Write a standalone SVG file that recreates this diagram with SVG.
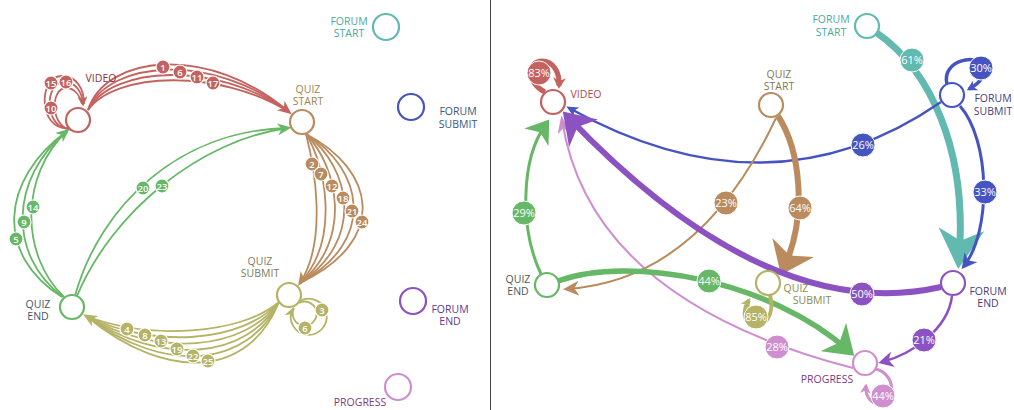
<svg xmlns="http://www.w3.org/2000/svg" width="1014" height="410" viewBox="0 0 1014 410">
<style>
  text{font-family:"Open Sans","Noto Sans","DejaVu Sans",sans-serif}
  .lbl{font-size:10.5px;text-anchor:middle}
  .nd{fill:#fff;stroke-width:2.2}
  .e{fill:none}
  .thin{stroke-width:1.8}
  .lb circle{stroke:#fff;stroke-width:1.2}
  .lb text{font-size:9.5px;fill:#fff;text-anchor:middle;font-weight:600}
  .rb circle{stroke:#fff;stroke-width:1}
  .rb text{font-size:11px;fill:#fff;text-anchor:middle}
  .red{stroke:#c4625f}.brown{stroke:#b98b5e}.olive{stroke:#b5b366}.green{stroke:#66b866}
  .teal{stroke:#62b9b0}.blue{stroke:#4654c2}.purple{stroke:#8d52c2}.pink{stroke:#cf8fcf}
  .fred{fill:#c4625f}.fbrown{fill:#b98b5e}.folive{fill:#b5b366}.fgreen{fill:#66b866}
  .fteal{fill:#62b9b0}.fblue{fill:#4654c2}.fpurple{fill:#8d52c2}.fpink{fill:#cf8fcf}
</style>
<defs>
  <path id="head" d="M0,0 L12,5 L0,10 L3.5,5 Z"/>
  <!-- small heads for the bundled arcs -->
  <marker id="hL-red" viewBox="0 0 12 10" refX="9" refY="5" markerWidth="14" markerHeight="12" markerUnits="userSpaceOnUse" orient="auto" preserveAspectRatio="none"><use href="#head" class="fred"/></marker>
  <marker id="hL-brown" viewBox="0 0 12 10" refX="9" refY="5" markerWidth="14" markerHeight="12" markerUnits="userSpaceOnUse" orient="auto" preserveAspectRatio="none"><use href="#head" class="fbrown"/></marker>
  <marker id="hL-olive" viewBox="0 0 12 10" refX="9" refY="5" markerWidth="14" markerHeight="12" markerUnits="userSpaceOnUse" orient="auto" preserveAspectRatio="none"><use href="#head" class="folive"/></marker>
  <marker id="hL-green" viewBox="0 0 12 10" refX="9" refY="5" markerWidth="14" markerHeight="12" markerUnits="userSpaceOnUse" orient="auto" preserveAspectRatio="none"><use href="#head" class="fgreen"/></marker>
  <marker id="hS-red" viewBox="0 0 12 10" refX="9" refY="5" markerWidth="10" markerHeight="10" markerUnits="userSpaceOnUse" orient="auto" preserveAspectRatio="none"><use href="#head" class="fred"/></marker>
  <marker id="hS-olive" viewBox="0 0 12 10" refX="9" refY="5" markerWidth="10" markerHeight="10" markerUnits="userSpaceOnUse" orient="auto" preserveAspectRatio="none"><use href="#head" class="folive"/></marker>
  <marker id="hS-blue" viewBox="0 0 12 10" refX="9" refY="5" markerWidth="10" markerHeight="11" markerUnits="userSpaceOnUse" orient="auto" preserveAspectRatio="none"><use href="#head" class="fblue"/></marker>
  <marker id="hS-pink" viewBox="0 0 12 10" refX="9" refY="5" markerWidth="10" markerHeight="11" markerUnits="userSpaceOnUse" orient="auto" preserveAspectRatio="none"><use href="#head" class="fpink"/></marker>
  <!-- weighted heads, sized by transition share -->
  <marker id="h-teal" viewBox="0 0 12 10" refX="9" refY="5" markerWidth="40" markerHeight="46" markerUnits="userSpaceOnUse" orient="auto" preserveAspectRatio="none"><use href="#head" class="fteal"/></marker>
  <marker id="h-purple" viewBox="0 0 12 10" refX="9" refY="5" markerWidth="30" markerHeight="40" markerUnits="userSpaceOnUse" orient="auto" preserveAspectRatio="none"><use href="#head" class="fpurple"/></marker>
  <marker id="h-brown" viewBox="0 0 12 10" refX="9" refY="5" markerWidth="30" markerHeight="46" markerUnits="userSpaceOnUse" orient="auto" preserveAspectRatio="none"><use href="#head" class="fbrown"/></marker>
  <marker id="h-green" viewBox="0 0 12 10" refX="9" refY="5" markerWidth="28" markerHeight="38" markerUnits="userSpaceOnUse" orient="auto" preserveAspectRatio="none"><use href="#head" class="fgreen"/></marker>
  <marker id="h-green2" viewBox="0 0 12 10" refX="9" refY="5" markerWidth="22" markerHeight="30" markerUnits="userSpaceOnUse" orient="auto" preserveAspectRatio="none"><use href="#head" class="fgreen"/></marker>
  <marker id="h-blue1" viewBox="0 0 12 10" refX="9" refY="5" markerWidth="12" markerHeight="11" markerUnits="userSpaceOnUse" orient="auto" preserveAspectRatio="none"><use href="#head" class="fblue"/></marker>
  <marker id="h-blue2" viewBox="0 0 12 10" refX="9" refY="5" markerWidth="15" markerHeight="16" markerUnits="userSpaceOnUse" orient="auto" preserveAspectRatio="none"><use href="#head" class="fblue"/></marker>
  <marker id="h-pink" viewBox="0 0 12 10" refX="9" refY="5" markerWidth="18" markerHeight="13" markerUnits="userSpaceOnUse" orient="auto" preserveAspectRatio="none"><use href="#head" class="fpink"/></marker>
  <marker id="h-brown2" viewBox="0 0 12 10" refX="9" refY="5" markerWidth="16" markerHeight="15" markerUnits="userSpaceOnUse" orient="auto" preserveAspectRatio="none"><use href="#head" class="fbrown"/></marker>
  <marker id="h-purple2" viewBox="0 0 12 10" refX="9" refY="5" markerWidth="15" markerHeight="16" markerUnits="userSpaceOnUse" orient="auto" preserveAspectRatio="none"><use href="#head" class="fpurple"/></marker>
  <marker id="h-red-loop" viewBox="0 0 12 10" refX="9" refY="5" markerWidth="11" markerHeight="13" markerUnits="userSpaceOnUse" orient="auto" preserveAspectRatio="none"><use href="#head" class="fred"/></marker>
</defs>

<rect width="1014" height="410" fill="#fff"/>
<line x1="490.5" y1="0" x2="490.5" y2="410" stroke="#444" stroke-width="1"/>

<!-- ===== left panel: numbered step sequence ===== -->
<g id="connectors-left">
  <!-- video -> quiz start -->
  <g class="e red thin">
    <path d="M88,110 C106,54 210,44 289,112"/>
    <path d="M88,110 C109,60 213,52 289,112" marker-end="url(#hL-red)"/>
    <path d="M88,110 C112,66 216,60 289,112"/>
    <path d="M88,110 C115,72 219,68 289,112"/>
  </g>
  <!-- video self loops -->
  <g class="e red thin">
    <path d="M68,128 C38,130 38,76 62,76 C76,76 84,88 84,104"/>
    <path d="M70,129 C44,129 44,82 64,82 C76,82 82,92 83,104" marker-end="url(#hS-red)"/>
    <path d="M72,130 C50,128 50,88 66,88 C75,88 80,96 82,104"/>
  </g>
  <!-- quiz start -> quiz submit -->
  <g class="e brown thin">
    <path d="M306,134 C314,165 328,240 300,283" marker-end="url(#hL-brown)"/>
    <path d="M306,134 C326,166 340,240 300,283"/>
    <path d="M306,134 C338,167 353,240 300,283"/>
    <path d="M306,134 C351,168 365,240 300,283"/>
    <path d="M306,134 C363,169 378,240 300,283"/>
    <path d="M306,134 C375,170 390,240 300,283"/>
  </g>
  <!-- quiz submit self loops -->
  <g class="e olive thin">
    <path d="M300,301 A18,18 0 1 1 292,310" marker-end="url(#hS-olive)"/>
    <path d="M299,303 A12,12 0 1 1 294,308"/>
  </g>
  <!-- quiz submit -> quiz end -->
  <g class="e olive thin">
    <path d="M279,302 C240,335 150,340 86,316"/>
    <path d="M279,302 C242,343 154,349 86,316"/>
    <path d="M279,302 C244,351 158,358 86,316" marker-end="url(#hL-olive)"/>
    <path d="M279,302 C246,359 162,367 86,316"/>
    <path d="M279,302 C248,367 166,376 86,316"/>
    <path d="M279,302 C250,375 170,385 86,316"/>
  </g>
  <!-- quiz end -> video -->
  <g class="e green thin">
    <path d="M62,297 C-5,255 0,180 67,131"/>
    <path d="M63,297 C7,255 10,178 67,131" marker-end="url(#hL-green)"/>
    <path d="M64,297 C20,255 20,175 67,131"/>
  </g>
  <!-- quiz end -> quiz start -->
  <g class="e green thin">
    <path d="M75,296 C100,205 180,130 288,128"/>
    <path d="M77,296 C112,212 200,140 288,128" marker-end="url(#hL-green)"/>
  </g>
  <!-- step numbers -->
  <g class="lb">
    <g><circle cx="163" cy="67" r="7" class="fred"/><text x="163" y="70.5">1</text></g>
    <g><circle cx="180" cy="72" r="7" class="fred"/><text x="180" y="75.5">6</text></g>
    <g><circle cx="197" cy="77" r="7" class="fred"/><text x="197" y="80.5">11</text></g>
    <g><circle cx="213" cy="83" r="7" class="fred"/><text x="213" y="86.5">17</text></g>
    <g><circle cx="51" cy="83" r="7" class="fred"/><text x="51" y="86.5">15</text></g>
    <g><circle cx="66" cy="82" r="7" class="fred"/><text x="66" y="85.5">16</text></g>
    <g><circle cx="51" cy="108" r="7" class="fred"/><text x="51" y="111.5">10</text></g>
    <g><circle cx="312" cy="164" r="7" class="fbrown"/><text x="312" y="167.5">2</text></g>
    <g><circle cx="321" cy="174" r="7" class="fbrown"/><text x="321" y="177.5">7</text></g>
    <g><circle cx="332" cy="186" r="7" class="fbrown"/><text x="332" y="189.5">12</text></g>
    <g><circle cx="343" cy="198" r="7" class="fbrown"/><text x="343" y="201.5">18</text></g>
    <g><circle cx="352" cy="211" r="7" class="fbrown"/><text x="352" y="214.5">21</text></g>
    <g><circle cx="362" cy="222" r="7" class="fbrown"/><text x="362" y="225.5">24</text></g>
    <g><circle cx="322" cy="310" r="7" class="folive"/><text x="322" y="313.5">3</text></g>
    <g><circle cx="305" cy="328" r="7" class="folive"/><text x="305" y="331.5">6</text></g>
    <g><circle cx="127" cy="329" r="7" class="folive"/><text x="127" y="332.5">4</text></g>
    <g><circle cx="145" cy="335" r="7" class="folive"/><text x="145" y="338.5">8</text></g>
    <g><circle cx="161" cy="341" r="7" class="folive"/><text x="161" y="344.5">13</text></g>
    <g><circle cx="177" cy="349" r="7" class="folive"/><text x="177" y="352.5">19</text></g>
    <g><circle cx="193" cy="356" r="7" class="folive"/><text x="193" y="359.5">22</text></g>
    <g><circle cx="208" cy="361" r="7" class="folive"/><text x="208" y="364.5">25</text></g>
    <g><circle cx="16" cy="239" r="7" class="fgreen"/><text x="16" y="242.5">5</text></g>
    <g><circle cx="24" cy="222" r="7" class="fgreen"/><text x="24" y="225.5">9</text></g>
    <g><circle cx="33" cy="207" r="7" class="fgreen"/><text x="33" y="210.5">14</text></g>
    <g><circle cx="143" cy="188" r="7" class="fgreen"/><text x="143" y="191.5">20</text></g>
    <g><circle cx="162" cy="186" r="7" class="fgreen"/><text x="162" y="189.5">23</text></g>
  </g>
</g>

<g id="L-video"><circle cx="78" cy="120" r="12" class="nd red"/><text class="lbl" x="101" y="82" fill="#8a2e3e">VIDEO</text></g>
<g id="L-quiz-start"><circle cx="302" cy="122" r="12" class="nd brown"/><text class="lbl" fill="#9c8650"><tspan x="308" y="93">QUIZ</tspan><tspan x="308" y="105">START</tspan></text></g>
<g id="L-quiz-end"><circle cx="72" cy="307" r="12" class="nd green"/><text class="lbl" fill="#3e5566"><tspan x="38" y="308">QUIZ</tspan><tspan x="38" y="320">END</tspan></text></g>
<g id="L-quiz-submit"><circle cx="289" cy="295" r="12" class="nd olive"/><text class="lbl" fill="#7c7b5c"><tspan x="260" y="265">QUIZ</tspan><tspan x="260" y="277">SUBMIT</tspan></text></g>
<g id="L-forum-start"><circle cx="386" cy="27" r="13" class="nd teal"/><text class="lbl" fill="#4aa9a0"><tspan x="349" y="25">FORUM</tspan><tspan x="349" y="37">START</tspan></text></g>
<g id="L-forum-submit"><circle cx="411" cy="107" r="13" class="nd blue"/><text class="lbl" fill="#37577c"><tspan x="458" y="115">FORUM</tspan><tspan x="458" y="128">SUBMIT</tspan></text></g>
<g id="L-forum-end"><circle cx="413" cy="301" r="13" class="nd purple"/><text class="lbl" fill="#5b3a8a"><tspan x="450" y="313">FORUM</tspan><tspan x="450" y="325">END</tspan></text></g>
<g id="L-progress"><circle cx="398" cy="387" r="13" class="nd pink"/><text class="lbl" x="360" y="406" fill="#7d3a7e">PROGRESS</text></g>

<!-- ===== right panel: transition shares ===== -->
<g id="connectors-right">
  <path class="e teal" stroke-width="7" d="M877,33 C930,70 968,150 959,259" marker-end="url(#h-teal)"/>
  <path class="e blue" stroke-width="2.5" d="M941,102 Q770,220 569,108" marker-end="url(#h-blue1)"/>
  <path class="e blue" stroke-width="3" d="M960,106 C990,140 992,230 964,266" marker-end="url(#h-blue2)"/>
  <path class="e blue" stroke-width="3.5" d="M947,84 C941,60 978,53 983,66 C986,75 980,83 969,89" marker-end="url(#hS-blue)"/>
  <path class="e red" stroke-width="5" d="M545,92 C527,84 527,61 542,61 C553,61 560,72 559,86" marker-end="url(#h-red-loop)"/>
  <path class="e pink" stroke-width="2" d="M853,368 Q590,300 562,120" marker-end="url(#h-pink)"/>
  <path class="e brown" stroke-width="2" d="M776,118 Q700,280 567,289" marker-end="url(#h-brown2)"/>
  <path class="e brown" stroke-width="6" d="M778,116 C800,150 808,215 784,268" marker-end="url(#h-brown)"/>
  <path class="e green" stroke-width="3" d="M541,274 C520,230 520,160 546,124" marker-end="url(#h-green2)"/>
  <path class="e green" stroke-width="5.5" d="M558,281 C630,255 770,280 849,351" marker-end="url(#h-green)"/>
  <path class="e olive" stroke-width="4" d="M770,295 C776,318 760,333 748,322 C743,317 744,308 749,300" marker-end="url(#hS-olive)"/>
  <path class="e purple" stroke-width="6" d="M941,287 Q768,326 568,117" marker-end="url(#h-purple)"/>
  <path class="e purple" stroke-width="2.5" d="M952,296 C948,330 910,355 882,362" marker-end="url(#h-purple2)"/>
  <path class="e pink" stroke-width="3" d="M876,369 C895,374 897,400 881,403 C871,405 865,396 866,386" marker-end="url(#hS-pink)"/>
  <g class="rb">
    <g><circle cx="912" cy="60" r="12" class="fteal"/><text x="912" y="64">61%</text></g>
    <g><circle cx="981" cy="68" r="12" class="fblue"/><text x="981" y="72">30%</text></g>
    <g><circle cx="539" cy="73" r="12" class="fred"/><text x="539" y="77">83%</text></g>
    <g><circle cx="863" cy="145" r="12" class="fblue"/><text x="863" y="149">26%</text></g>
    <g><circle cx="985" cy="192" r="12" class="fblue"/><text x="985" y="196">33%</text></g>
    <g><circle cx="800" cy="208" r="12" class="fbrown"/><text x="800" y="212">64%</text></g>
    <g><circle cx="726" cy="203" r="12" class="fbrown"/><text x="726" y="207">23%</text></g>
    <g><circle cx="524" cy="213" r="12" class="fgreen"/><text x="524" y="217">29%</text></g>
    <g><circle cx="709" cy="281" r="12" class="fgreen"/><text x="709" y="285">44%</text></g>
    <g><circle cx="756" cy="317" r="12" class="folive"/><text x="756" y="321">85%</text></g>
    <g><circle cx="862" cy="294" r="12" class="fpurple"/><text x="862" y="298">50%</text></g>
    <g><circle cx="924" cy="340" r="12" class="fpurple"/><text x="924" y="344">21%</text></g>
    <g><circle cx="777" cy="347" r="12" class="fpink"/><text x="777" y="351">28%</text></g>
    <g><circle cx="883" cy="396" r="12" class="fpink"/><text x="883" y="400">44%</text></g>
  </g>
</g>

<g id="R-video"><circle cx="553" cy="102" r="12" class="nd red"/><text class="lbl" x="586" y="98" fill="#b04a4a">VIDEO</text></g>
<g id="R-quiz-start"><circle cx="771" cy="105" r="12" class="nd brown"/><text class="lbl" fill="#7f7a55"><tspan x="779" y="78">QUIZ</tspan><tspan x="779" y="90">START</tspan></text></g>
<g id="R-forum-start"><circle cx="867" cy="26" r="12" class="nd teal"/><text class="lbl" fill="#4aa9a0"><tspan x="831" y="23">FORUM</tspan><tspan x="831" y="36">START</tspan></text></g>
<g id="R-forum-submit"><circle cx="952" cy="95" r="12" class="nd blue"/><text class="lbl" fill="#4a3d7c"><tspan x="993" y="102">FORUM</tspan><tspan x="993" y="115">SUBMIT</tspan></text></g>
<g id="R-quiz-end"><circle cx="547" cy="285" r="12" class="nd green"/><text class="lbl" fill="#4a5a55"><tspan x="518" y="283">QUIZ</tspan><tspan x="518" y="295">END</tspan></text></g>
<g id="R-quiz-submit"><circle cx="768" cy="283" r="12" class="nd olive"/><text class="lbl" fill="#8a8a52"><tspan x="796" y="292">QUIZ</tspan><tspan x="812" y="304">SUBMIT</tspan></text></g>
<g id="R-forum-end"><circle cx="953" cy="283" r="12" class="nd purple"/><text class="lbl" fill="#4a3d7c"><tspan x="988" y="295">FORUM</tspan><tspan x="988" y="307">END</tspan></text></g>
<g id="R-progress"><circle cx="865" cy="363" r="12" class="nd pink"/><text class="lbl" x="827" y="383" fill="#7d3a7e">PROGRESS</text></g>
</svg>
